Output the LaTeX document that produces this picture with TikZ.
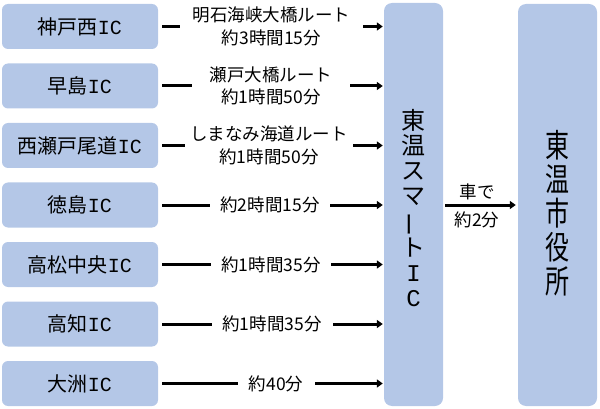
\documentclass[tikz,border=0pt]{standalone}
\usepackage{fontspec}
\usetikzlibrary{arrows.meta}
\newfontfamily\jp{Noto Sans CJK JP}
\newfontfamily\lmono{Liberation Mono}
\definecolor{boxblue}{RGB}{180,199,231}
\tikzset{
  icbox/.style={fill=boxblue, draw=none, rounded corners=6pt, minimum width=156pt, minimum height=45pt, inner sep=0pt, font=\jp\fontsize{20}{22}\selectfont},
  conn/.style={line width=3pt, -{Triangle[length=6pt,width=8pt]}},
  lbl/.style={fill=white, inner sep=0pt, minimum height=44pt, align=center, font=\jp\fontsize{17.5}{22.5}\selectfont},
  bigbox/.style={fill=boxblue, rounded corners=8pt, inner sep=0pt},
}
\begin{document}
\begin{tikzpicture}[x=1pt,y=-1pt]
\useasboundingbox (0,0) rectangle (600,409);
% boxes
\node[icbox] (b1) at (80,26.5) {神戸西{\lmono IC}};
\node[icbox] (b2) at (80,86) {早島{\lmono IC}};
\node[icbox] (b3) at (80,145.5) {西瀬戸尾道{\lmono IC}};
\node[icbox] (b4) at (80,205) {徳島{\lmono IC}};
\node[icbox] (b5) at (80,264.5) {高松中央{\lmono IC}};
\node[icbox] (b6) at (80,324) {高知{\lmono IC}};
\node[icbox] (b7) at (80,383.5) {大洲{\lmono IC}};
% middle box
\node[bigbox, minimum width=59pt, minimum height=403pt] (mid) at (413.5,204.5) {};
\node[align=center, inner sep=0pt, font=\jp\fontsize{24}{25}\selectfont] (midtext) at (413.5,208)
  {東\\温\\ス\\マ\\\rotatebox[origin=c]{90}{ー}\\ト\\{\lmono I}\\{\lmono C}};
% right box
\node[bigbox, minimum width=79pt, minimum height=402pt] (city) at (557.5,205) {};
\node[align=center, inner sep=0pt, font=\jp\fontsize{24}{34}\selectfont] (citytext) at (557.5,213)
  {\scalebox{1}[1.35]{東}\\\scalebox{1}[1.35]{温}\\\scalebox{1}[1.35]{市}\\\scalebox{1}[1.35]{役}\\\scalebox{1}[1.35]{所}};
% connectors
\foreach \i in {1,...,7} {
  \coordinate (t\i) at (mid.west |- b\i.east);
  \draw[conn] ([xshift=4pt]b\i.east) -- ([xshift=-1pt]t\i);
}
\node[lbl, minimum width=183pt] (l1) at (271.5,26.5) {明石海峡大橋ルート\\約3時間15分};
\node[lbl, minimum width=158pt] (l2) at (271,86) {瀬戸大橋ルート\\約1時間50分};
\node[lbl, minimum width=168pt] (l3) at (269,145.5) {しまなみ海道ルート\\約1時間50分};
\node[lbl, minimum width=120pt] (l4) at (270,205) {約2時間15分};
\node[lbl, minimum width=120pt] (l5) at (271,264.5) {約1時間35分};
\node[lbl, minimum width=121pt] (l6) at (272,324) {約1時間35分};
\node[lbl, minimum width=77pt] (l7) at (276,383.5) {約40分};
% to city hall
\coordinate (ca) at (mid.east |- 0,205);
\coordinate (cb) at (city.west |- 0,205);
\draw[conn] ([xshift=2pt]ca) -- ([xshift=-2pt]cb);
\node[font=\jp\fontsize{17.5}{20}\selectfont, inner sep=0pt] (car) at (477,192) {車で};
\node[font=\jp\fontsize{17.5}{20}\selectfont, inner sep=0pt] (time) at (477,220) {約2分};
\end{tikzpicture}
\end{document}
